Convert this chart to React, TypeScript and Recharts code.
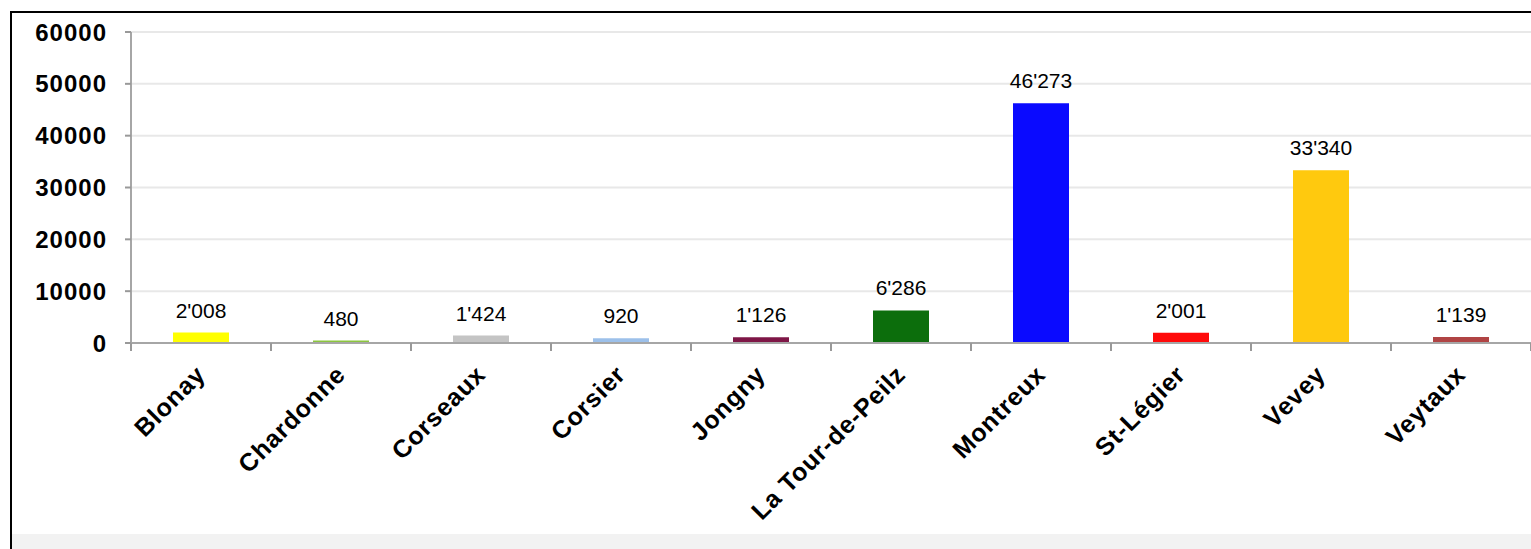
import { BarChart, Bar, XAxis, YAxis, CartesianGrid, Cell, LabelList } from 'recharts'

const FONT = "'Liberation Sans', Arial, sans-serif"
const CHART_W = 1531
const Y_AXIS_W = 131

const communes = ['Blonay', 'Chardonne', 'Corseaux', 'Corsier', 'Jongny', 'La Tour-de-Peilz', 'Montreux', 'St-Légier', 'Vevey', 'Veytaux']
const population = [2008, 480, 1424, 920, 1126, 6286, 46273, 2001, 33340, 1139]
const yTicks = [0, 10000, 20000, 30000, 40000, 50000, 60000]

const barColors = ['#ffff00', '#8cc63f', '#c4c4c4', '#9cc0ea', '#7e1646', '#0c6e0c', '#0a0aff', '#ff0a0a', '#ffc90e', '#b04444']

const data = communes.map((name, i) => ({ name, value: population[i] }))

const fmt = (v: unknown) => String(v).replace(/\B(?=(\d{3})+(?!\d))/g, "'")

const TICK_SIZE = 8
const TICK_MARGIN = 6

// category ticks sit between bars (excel style), so draw them at the band edges
function CommuneTick({ x, y, payload, index, visibleTicksCount }: any) {
  const half = payload.offset || (CHART_W - Y_AXIS_W) / communes.length / 2
  const axisY = y - TICK_SIZE - TICK_MARGIN
  const ax = x + 6
  const ay = y + 19
  const last = index === visibleTicksCount - 1
  return (
    <g>
      <line x1={x - half} x2={x - half} y1={axisY} y2={axisY + TICK_SIZE} stroke="#999" strokeWidth={2} />
      {last && <line x1={x + half} x2={x + half} y1={axisY} y2={axisY + TICK_SIZE} stroke="#999" strokeWidth={2} />}
      <text
        x={ax}
        y={ay}
        transform={`rotate(-45, ${ax}, ${ay})`}
        textAnchor="end"
        fontFamily={FONT}
        fontWeight="bold"
        fontSize={25}
        letterSpacing={0.8}
        fill="#000"
      >
        {payload.value}
      </text>
    </g>
  )
}

export default function App() {
  return (
    <div style={{ position: 'absolute', left: 0, top: 0, width: 1531, height: 549, overflow: 'hidden', background: '#fff' }}>
      <div style={{
        position: 'absolute',
        left: 10,
        top: 11,
        width: 1600,
        height: 600,
        borderLeft: '2px solid #000',
        borderTop: '2px solid #000',
      }} />
      <div style={{ position: 'absolute', left: 12, top: 534, width: 1600, height: 20, background: '#f2f2f2' }} />
      <div style={{ position: 'absolute', left: 0, top: 0 }}>
        <BarChart
          width={CHART_W}
          height={549}
          data={data}
          margin={{ top: 32, right: 0, bottom: 0, left: 0 }}
          barCategoryGap="30%"
        >
          <CartesianGrid horizontal vertical={false} stroke="#e8e8e8" strokeWidth={2} />
          <XAxis
            dataKey="name"
            interval={0}
            height={206}
            tick={<CommuneTick />}
            tickLine={false}
            axisLine={{ stroke: '#a6a6a6', strokeWidth: 2 }}
            tickSize={TICK_SIZE}
            tickMargin={TICK_MARGIN}
          />
          <YAxis
            width={Y_AXIS_W}
            domain={[0, 60000]}
            ticks={yTicks}
            interval={0}
            axisLine={{ stroke: '#a6a6a6', strokeWidth: 2 }}
            tickLine={{ stroke: '#999', strokeWidth: 2 }}
            tickSize={6}
            tickMargin={18}
            tick={{ fontFamily: FONT, fontWeight: 'bold', fontSize: 24, fill: '#000', letterSpacing: 1 }}
          />
          <Bar dataKey="value" isAnimationActive={false}>
            {data.map((d, i) => (
              <Cell key={d.name} fill={barColors[i]} />
            ))}
            <LabelList
              dataKey="value"
              position="top"
              offset={15}
              formatter={fmt}
              style={{ fontFamily: FONT, fontSize: 21, fill: '#000' }}
            />
          </Bar>
        </BarChart>
      </div>
    </div>
  )
}
